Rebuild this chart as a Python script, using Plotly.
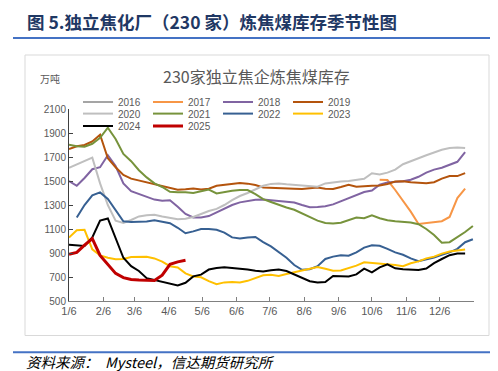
import datetime as dt
import plotly.graph_objects as go

# ---------------- data (万吨, weekly, week 0 = 1/6) ----------------
years = ["2016", "2017", "2018", "2019", "2020", "2021", "2022", "2023", "2024", "2025"]
colors = ["#A5A5A5", "#F79646", "#8064A2", "#B4540D", "#BFBFBF",
          "#77933C", "#376092", "#FFC000", "#000000", "#C00000"]
widths = [2, 2, 2, 2, 2, 2, 2, 2, 2, 3]

v2016 = [None]  # legend only, no data drawn
v2017 = [1510, 1508, 1425, 1338, 1245, 1142, 1150, 1154, 1165, 1200, 1358, 1436]
v2018 = [1500, 1460, 1525, 1598, 1615, 1715, 1625, 1480, 1415, 1390, 1370, 1345, 1335,
         1340, 1285, 1225, 1196, 1196, 1208, 1240, 1270, 1300, 1322, 1335, 1343, 1345,
         1338, 1336, 1330, 1320, 1300, 1282, 1284, 1290, 1305, 1330, 1360, 1382, 1408,
         1420, 1470, 1488, 1492, 1498, 1510, 1535, 1570, 1595, 1610, 1635, 1660, 1740]
v2019 = [1766, 1789, 1800, 1830, 1885, 1690, 1615, 1550, 1520, 1505, 1492, 1478, 1462,
         1445, 1428, 1432, 1438, 1430, 1435, 1460, 1470, 1476, 1484, 1478, 1466, 1446,
         1442, 1441, 1438, 1436, 1434, 1440, 1445, 1436, 1433, 1450, 1469, 1452, 1458,
         1460, 1462, 1475, 1495, 1497, 1490, 1485, 1481, 1490, 1520, 1541, 1541, 1566]
v2020 = [1610, 1640, 1665, 1695, 1480, 1300, 1170, 1150, 1175, 1205, 1215, 1218, 1205,
         1195, 1182, 1185, 1200, 1225, 1250, 1268, 1300, 1340, 1375, 1400, 1430, 1460,
         1476, 1480, 1472, 1466, 1460, 1455, 1452, 1480, 1490, 1496, 1500, 1510, 1518,
         1565, 1555, 1570, 1595, 1640, 1668, 1690, 1715, 1740, 1760, 1775, 1780, 1775]
v2021 = [1803, 1789, 1786, 1810, 1860, 1945, 1850, 1725, 1665, 1590, 1530, 1480, 1450,
         1410, 1407, 1407, 1400, 1412, 1428, 1396, 1410, 1418, 1424, 1425, 1390, 1349,
         1325, 1300, 1279, 1260, 1232, 1200, 1170, 1150, 1145, 1152, 1175, 1196, 1190,
         1215, 1190, 1173, 1164, 1158, 1154, 1140, 1100, 1050, 985, 990, 1030, 1075, 1125]
v2022 = [1196, 1300, 1380, 1405, 1350, 1260, 1165, 1158, 1160, 1163, 1172, 1160, 1148,
         1110, 1065, 1080, 1100, 1100, 1093, 1070, 1030, 1020, 1030, 1033, 990, 955,
         905, 860, 800, 760, 765, 790, 850, 870, 882, 877, 905, 945, 965, 960, 935,
         905, 885, 855, 832, 845, 862, 885, 905, 935, 990, 1015]
v2023 = [1029, 1090, 1093, 930, 880, 860, 848, 850, 866, 864, 868, 855, 828, 790, 780,
         730, 705, 698, 665, 640, 655, 658, 654, 668, 690, 715, 718, 709, 725, 740, 760,
         772, 784, 768, 752, 755, 772, 795, 823, 818, 812, 810, 800, 790, 815, 830, 855,
         870, 895, 912, 922, 930]
v2024 = [968, 960, 958, 1030, 1170, 1188, 1030, 860, 790, 750, 690, 676, 662, 648, 630,
         652, 705, 720, 762, 775, 782, 775, 770, 762, 752, 745, 757, 762, 750, 722, 695,
         665, 655, 658, 708, 705, 705, 722, 770, 738, 780, 806, 772, 765, 762, 758, 770,
         815, 850, 882, 896, 896]
v2025 = [889, 905, 965, 1020, 880, 800, 730, 695, 680, 675, 672, 670, 715, 806, 826, 840]

series = [v2016, v2017, v2018, v2019, v2020, v2021, v2022, v2023, v2024, v2025]
first_week = [0, 40, 0, 0, 0, 0, 1, 0, 0, 0]

month_ticks = ["1/6", "2/6", "3/6", "4/6", "5/6", "6/6", "7/6", "8/6", "9/6", "10/6", "11/6", "12/6"]

base = dt.date(2001, 1, 6)
tickvals = [dt.date(2001, m, 6) for m in range(1, 13)]

FONT = "Liberation Sans, Arial, Noto Sans CJK SC, sans-serif"
CJK = "Noto Sans CJK SC, sans-serif"
GREY = "#595959"

fig = go.Figure()
legend_of = ["legend"] * 4 + ["legend2"] * 4 + ["legend3"] * 2
for name, vals, fw, col, w, lg in zip(years, series, first_week, colors, widths, legend_of):
    xs = [base + dt.timedelta(days=7 * (fw + i)) for i in range(len(vals))]
    fig.add_trace(go.Scatter(x=xs, y=vals, mode="lines", name=name,
                             line=dict(color=col, width=w), legend=lg,
                             showlegend=True, hoverinfo="skip"))

# plot area: x 61..466, y 101..293 (pixels)
L, R, T, B = 61, 32, 101, 78
W, H = 498, 371
pw, ph = W - L - R, H - T - B


def px(x):
    return (x - L) / pw


def py(y):
    return (H - B - y) / ph


leg_common = dict(orientation="h", xanchor="left", yanchor="middle",
                  font=dict(family=FONT, size=10, color=GREY),
                  bgcolor="rgba(0,0,0,0)", entrywidth=25, entrywidthmode="pixels",
                  itemclick=False, itemdoubleclick=False)

LX = 70
fig.update_layout(
    width=W, height=H,
    margin=dict(l=L, r=R, t=T, b=B),
    paper_bgcolor="white", plot_bgcolor="white",
    showlegend=True,
    legend=dict(x=px(LX), y=py(94), **leg_common),
    legend2=dict(x=px(LX), y=py(105.6), **leg_common),
    legend3=dict(x=px(LX), y=py(118), **leg_common),
    xaxis=dict(type="date", range=[base, dt.date(2002, 1, 6)],
               tickvals=tickvals, ticktext=month_ticks,
               showgrid=False, zeroline=False,
               showline=True, linecolor="#808080", linewidth=1,
               ticks="inside", ticklen=4, tickcolor="#808080",
               tickfont=dict(family=FONT, size=11, color=GREY)),
    yaxis=dict(range=[500, 2100], tickvals=list(range(500, 2101, 200)),
               showgrid=False, zeroline=False,
               showline=True, linecolor="#404040", linewidth=1,
               ticks="inside", ticklen=4, tickcolor="#404040",
               tickfont=dict(family=FONT, size=10, color=GREY)),
)

# frames / rules
fig.add_shape(type="rect", xref="paper", yref="paper",
              x0=px(17), x1=px(481), y0=py(327.5), y1=py(47),
              line=dict(color="#D9D9D9", width=1), fillcolor="rgba(0,0,0,0)", layer="below")
for yy in (30, 344.3):
    fig.add_shape(type="line", xref="paper", yref="paper",
                  x0=px(5), x1=px(493), y0=py(yy), y1=py(yy),
                  line=dict(color="#4472C4", width=2))

fig.add_annotation(text="<b>图 5.独立焦化厂（230 家）炼焦煤库存季节性图</b>",
                   xref="paper", yref="paper", x=px(17), y=py(13.5),
                   xanchor="left", yanchor="middle", showarrow=False,
                   font=dict(family=CJK, size=17.5, color="#1F3864"))
fig.add_annotation(text="230家独立焦企炼焦煤库存",
                   xref="paper", yref="paper", x=px(248.5), y=py(68),
                   xanchor="center", yanchor="middle", showarrow=False,
                   font=dict(family=CJK, size=16, color=GREY))
fig.add_annotation(text="万吨",
                   xref="paper", yref="paper", x=px(42), y=py(70),
                   xanchor="center", yanchor="middle", showarrow=False,
                   font=dict(family=CJK, size=10, color=GREY))
fig.add_annotation(text="<i>资料来源：  Mysteel，信达期货研究所</i>",
                   xref="paper", yref="paper", x=px(17), y=py(353),
                   xanchor="left", yanchor="middle", showarrow=False, borderpad=0,
                   font=dict(family=CJK, size=14.5, color="#000000"))

fig.write_html("out.html")
